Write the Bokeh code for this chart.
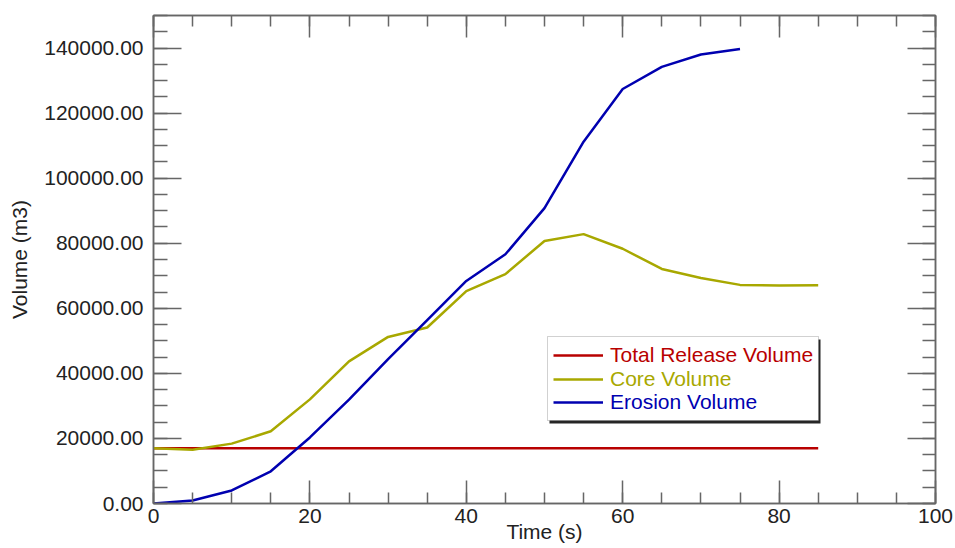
from bokeh.plotting import figure
from bokeh.models import (LinearAxis, SingleIntervalTicker, PrintfTickFormatter, Legend,
                          LegendItem, BoxAnnotation, Range1d, CustomLabelingPolicy,
                          CustomJSTickFormatter)
from bokeh.embed import file_html
from bokeh.resources import INLINE

# ---------------- data ----------------
time_total = [0, 85]
total_release = [17000, 17000]

time_core = [0, 5, 10, 15, 20, 25, 30, 35, 40, 45, 50, 55, 60, 65, 70, 75, 80, 85]
core_volume = [17000, 16500, 18400, 22200, 32000, 43700, 51200, 54100, 65300, 70500,
               80700, 82800, 78300, 72100, 69300, 67200, 67000, 67100]

time_erosion = [0, 5, 10, 15, 20, 25, 30, 35, 40, 45, 50, 55, 60, 65, 70, 75]
erosion_volume = [0, 900, 4000, 9900, 20300, 31900, 44400, 56400, 68400, 76600,
                  90800, 111200, 127400, 134200, 138000, 139700]

series_names = ["Total Release Volume", "Core Volume", "Erosion Volume"]
series_colors = ["#B80000", "#A8A800", "#0000B0"]

FONT = "Liberation Sans"
AX = "#666666"
TXT = "#222222"

p = figure(width=955, height=548, output_backend="svg", toolbar_location=None,
           x_range=Range1d(0, 100), y_range=Range1d(0, 150000),
           x_axis_type=None, y_axis_type=None,
           min_border_left=153, min_border_right=20, min_border_top=15, min_border_bottom=45)
p.outline_line_color = AX
p.outline_line_width = 1.5
p.background_fill_color = "white"
p.border_fill_color = "white"

hide_all = CustomLabelingPolicy(code="""
const a = [];
for (const i of indices) a.push(i);
for (const i of a) indices.unset(i);
return indices;
""")


def style_axis(ax, major_in, minor_in, labels=True):
    ax.axis_line_color = AX
    ax.axis_line_width = 1.5
    ax.major_tick_line_color = AX
    ax.minor_tick_line_color = AX
    ax.major_tick_line_width = 1.5
    ax.minor_tick_line_width = 1.5
    ax.major_tick_out = 0
    ax.minor_tick_out = 0
    ax.major_tick_in = major_in
    ax.minor_tick_in = minor_in
    if labels:
        ax.major_label_text_font = FONT
        ax.major_label_text_font_size = "21px"
        ax.major_label_text_color = TXT
    else:
        ax.major_label_text_font_size = "0px"
        ax.major_label_standoff = 0
        ax.major_label_policy = hide_all
        ax.formatter = CustomJSTickFormatter(code="return ''")


xb = LinearAxis(ticker=SingleIntervalTicker(interval=20, num_minor_ticks=4))
style_axis(xb, 23, 11)
xb.major_label_standoff = 5
xb.axis_label = "Time (s)"
xb.axis_label_text_font = FONT
xb.axis_label_text_font_size = "21px"
xb.axis_label_text_font_style = "normal"
xb.axis_label_text_color = TXT
xb.axis_label_standoff = -6
p.add_layout(xb, "below")

xt = LinearAxis(ticker=SingleIntervalTicker(interval=20, num_minor_ticks=4))
style_axis(xt, 22, 11, labels=False)
p.add_layout(xt, "above")

yl = LinearAxis(ticker=SingleIntervalTicker(interval=20000, num_minor_ticks=4),
                formatter=PrintfTickFormatter(format="%.2f"))
style_axis(yl, 28, 14)
yl.major_label_standoff = 10
yl.axis_label = "Volume (m3)"
yl.axis_label_text_font = FONT
yl.axis_label_text_font_size = "21px"
yl.axis_label_text_font_style = "normal"
yl.axis_label_text_color = TXT
yl.axis_label_standoff = 10
p.add_layout(yl, "left")

yr = LinearAxis(ticker=SingleIntervalTicker(interval=20000, num_minor_ticks=4))
style_axis(yr, 28, 13, labels=False)
p.add_layout(yr, "right")

r_total = p.line(time_total, total_release, line_color=series_colors[0], line_width=2.5)
r_core = p.line(time_core, core_volume, line_color=series_colors[1], line_width=2.5)
r_eros = p.line(time_erosion, erosion_volume, line_color=series_colors[2], line_width=2.5)

# legend frame + shadow
p.add_layout(BoxAnnotation(left=396, right=667, bottom=80, top=164,
                           left_units="screen", right_units="screen",
                           bottom_units="screen", top_units="screen",
                           fill_color="black", fill_alpha=0.85, line_color=None))
p.add_layout(BoxAnnotation(left=394, right=665, bottom=83, top=167,
                           left_units="screen", right_units="screen",
                           bottom_units="screen", top_units="screen",
                           fill_color="white", fill_alpha=1.0,
                           line_color="#666666", line_width=1))

row_bottoms = [136, 112, 89]
for name, col, rend, yb in zip(series_names, series_colors, [r_total, r_core, r_eros], row_bottoms):
    lg = Legend(items=[LegendItem(label=name, renderers=[rend])], location=(400, yb),
                border_line_color=None, background_fill_alpha=0, padding=0, margin=0,
                spacing=0, glyph_width=50, glyph_height=24, label_height=24,
                label_standoff=7, label_text_font=FONT, label_text_font_size="21px",
                label_text_color=col, label_text_baseline="middle")
    p.add_layout(lg)

open("out.html", "w").write(file_html(p, INLINE))
